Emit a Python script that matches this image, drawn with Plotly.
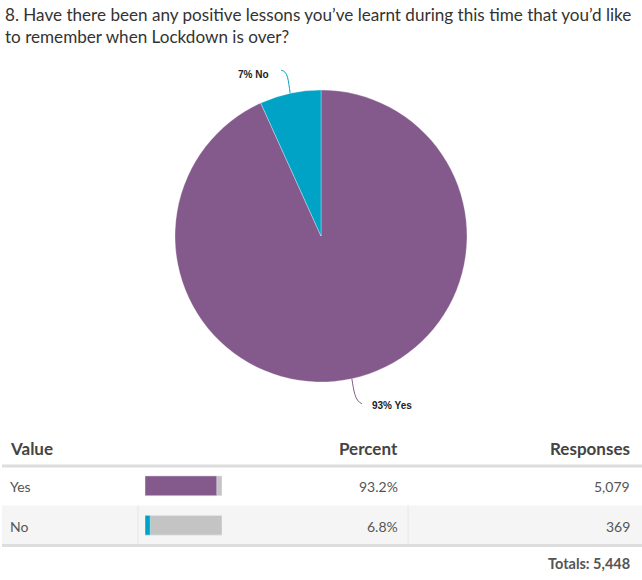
import math
import plotly.graph_objects as go

# ---- data ----
title_lines = ["8. Have there been any positive lessons you’ve learnt during this time that you’d like",
               "to remember when Lockdown is over?"]
labels = ["Yes", "No"]
responses = [5079, 369]
colors = ["#845a8c", "#00a3c6"]

total = sum(responses)
pcts = [r / total * 100 for r in responses]

W, H = 642, 580


def px(x):
    return x / W


def py(y):
    return 1 - y / H


fig = go.Figure()

# ---- pie ----
cx, cy, R = 321, 236, 146
fig.add_trace(go.Pie(
    labels=labels, values=responses, sort=False, direction="clockwise", rotation=0,
    marker=dict(colors=colors, line=dict(color="rgba(255,255,255,0.6)", width=0.5)),
    textinfo="none", hoverinfo="skip", showlegend=False,
    domain=dict(x=[px(cx - R), px(cx + R)], y=[py(cy + R), py(cy - R)]),
))

# leader lines + labels computed from slice mid angles
shapes = []
annotations = []
start = 0.0
for lab, val, pct, col in zip(labels, responses, pcts, colors):
    frac = val / total
    mid = (start + frac / 2) * 2 * math.pi  # clockwise from top
    start += frac
    ex = cx + R * math.sin(mid)
    ey = cy - R * math.cos(mid)
    txt = f"{pct:.0f}% {lab}"
    if math.cos(mid) > 0:  # upper half -> label above-left
        x1, y1 = ex - 9, ey - 23
        path = (f"M {px(ex)},{py(ey)} C {px(ex-2)},{py(ey-13)} {px(ex-2)},{py(ey-22)} {px(x1)},{py(y1)}")
        annotations.append(dict(x=px(x1 - 10), y=py(y1 + 4), xref="paper", yref="paper",
                                text=f"<b>{txt}</b>", showarrow=False, xanchor="right", yanchor="middle",
                                font=dict(family="Liberation Sans, Arial", size=10, color="#222")))
    else:
        x1, y1 = ex + 10, ey + 25
        path = (f"M {px(ex)},{py(ey)} C {px(ex+2)},{py(ey+12)} {px(ex+3)},{py(ey+22)} {px(x1)},{py(y1)}")
        annotations.append(dict(x=px(x1 + 8), y=py(y1 + 2), xref="paper", yref="paper",
                                text=f"<b>{txt}</b>", showarrow=False, xanchor="left", yanchor="middle",
                                font=dict(family="Liberation Sans, Arial", size=10, color="#222")))
    shapes.append(dict(type="path", path=path, xref="paper", yref="paper",
                       line=dict(color=col, width=1)))

# ---- title ----
for i, line in enumerate(title_lines):
    annotations.append(dict(x=px(3), y=py(15 + 21 * i), xref="paper", yref="paper", text=line,
                            showarrow=False, xanchor="left", yanchor="middle",
                            font=dict(family="Lato", size=17.1, color="#333")))

# ---- table ----
row_top = 466
row_h = 39.5
# striped row background for row 2
shapes.append(dict(type="rect", xref="paper", yref="paper", x0=px(2), x1=px(642),
                   y0=py(row_top + 2 * row_h), y1=py(row_top + row_h),
                   fillcolor="#f5f5f5", line=dict(width=0), layer="below"))
for vx in (138, 408):
    shapes.append(dict(type="line", xref="paper", yref="paper", x0=px(vx), x1=px(vx),
                       y0=py(row_top + 2 * row_h), y1=py(row_top + row_h),
                       line=dict(color="#e6e6e6", width=1), layer="below"))
for ly in (row_top, row_top + 2 * row_h + 0.5):
    shapes.append(dict(type="line", xref="paper", yref="paper", x0=px(2), x1=px(642),
                       y0=py(ly), y1=py(ly), line=dict(color="#dddddd", width=3)))

hdr_font = dict(family="Lato", size=17, color="#444")
for txt, x, anc in (("<b>Value</b>", 8, "left"), ("<b>Percent</b>", 400, "right"),
                    ("<b>Responses</b>", 632, "right")):
    annotations.append(dict(x=px(x), y=py(448), xref="paper", yref="paper", text=txt,
                            showarrow=False, xanchor=anc, yanchor="middle", font=hdr_font))

cell_font = dict(family="Lato", size=14, color="#555")
for i, (lab, val, pct) in enumerate(zip(labels, responses, pcts)):
    yc = row_top + row_h * (i + 0.5) + 1
    annotations.append(dict(x=px(8), y=py(yc), xref="paper", yref="paper", text=lab,
                            showarrow=False, xanchor="left", yanchor="middle", font=cell_font))
    annotations.append(dict(x=px(400), y=py(yc), xref="paper", yref="paper", text=f"{pct:.1f}%",
                            showarrow=False, xanchor="right", yanchor="middle", font=cell_font))
    annotations.append(dict(x=px(632), y=py(yc), xref="paper", yref="paper", text=f"{val:,}",
                            showarrow=False, xanchor="right", yanchor="middle", font=cell_font))

annotations.append(dict(x=px(632), y=py(563), xref="paper", yref="paper",
                        text=f"<b>Totals: {total:,}</b>", showarrow=False, xanchor="right",
                        yanchor="middle", font=dict(family="Lato", size=14.5, color="#555")))

# mini bars
fig.add_trace(go.Bar(x=[100] * len(labels), y=labels, orientation="h", marker_color="#c4c4c4",
                     width=0.5, xaxis="x", yaxis="y", hoverinfo="skip", showlegend=False))
fig.add_trace(go.Bar(x=pcts, y=labels, orientation="h", marker_color=colors, width=0.5,
                     xaxis="x", yaxis="y", hoverinfo="skip", showlegend=False))

fig.update_layout(
    width=W, height=H, autosize=False,
    margin=dict(l=0, r=0, t=0, b=0),
    paper_bgcolor="white", plot_bgcolor="rgba(0,0,0,0)",
    barmode="overlay",
    xaxis=dict(domain=[px(145), px(222)], range=[0, 100], visible=False, fixedrange=True),
    yaxis=dict(domain=[py(row_top + 2 * row_h), py(row_top)], range=[1.5, -0.5],
               type="category", visible=False, fixedrange=True),
    shapes=shapes, annotations=annotations,
)

fig.write_html("out.html", config={"displayModeBar": False},
               post_script="document.body.style.margin='0';document.body.style.overflow='hidden';")
